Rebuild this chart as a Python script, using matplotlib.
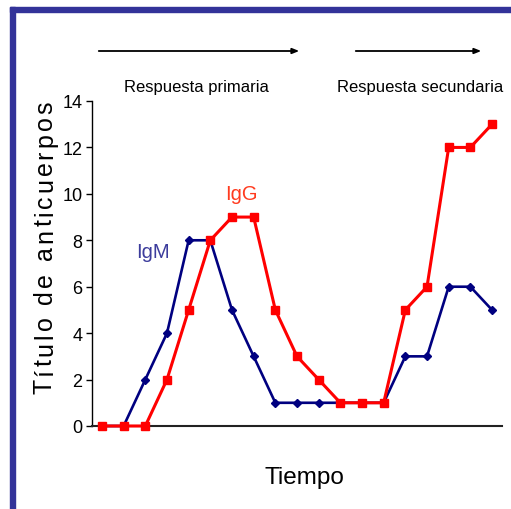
import numpy as np
import matplotlib
matplotlib.use("Agg")
import matplotlib.pyplot as plt
from matplotlib.patches import Rectangle, FancyArrowPatch
from matplotlib.font_manager import FontProperties
from matplotlib.textpath import TextToPath

plt.rcParams["font.family"] = ["Liberation Sans", "DejaVu Sans"]

# antibody titre over time, one sample per step
igm = [0, 0, 2, 4, 8, 8, 5, 3, 1, 1, 1, 1, 1, 1, 3, 3, 6, 6, 5]
igg = [0, 0, 0, 2, 5, 8, 9, 9, 5, 3, 2, 1, 1, 1, 5, 6, 12, 12, 13]
y_ticks = [0, 2, 4, 6, 8, 10, 12, 14]
phase_labels = ["Respuesta primaria", "Respuesta secundaria"]
ylabel = "Título de anticuerpos"
xlabel = "Tiempo"

W, H = 511, 510
fig = plt.figure(figsize=(W / 100, H / 100), dpi=100)

def fx(px):
    return px / W

def fy(py):
    return 1 - py / H

# blue frame on the left and top
frame_col = "#333399"
fig.patches.append(Rectangle((fx(10), 0), fx(5), fy(8), transform=fig.transFigure,
                             color=frame_col, zorder=0))
fig.patches.append(Rectangle((fx(10), fy(13)), 1 - fx(10), fy(8) - fy(13),
                             transform=fig.transFigure, color=frame_col, zorder=0))

ax = fig.add_axes([fx(92), fy(427), fx(502) - fx(92), fy(102) - fy(427)])
x = np.arange(len(igm))
ax.plot(x, igm, color="#000080", lw=1.9, marker="D", ms=3.6, clip_on=False, zorder=3)
ax.plot(x, igg, color="#ff0000", lw=2.2, marker="s", ms=5.6, clip_on=False, zorder=4)

ax.set_xlim(-0.46, len(igm) - 1 + 0.46)
ax.set_ylim(0, 14)
ax.set_yticks(y_ticks)
ax.set_xticks([])
ax.tick_params(axis="y", length=4, width=1, pad=3, labelsize=13, direction="out")
for s in ("top", "right"):
    ax.spines[s].set_visible(False)
ax.spines["left"].set_linewidth(1)
ax.spines["bottom"].set_linewidth(1.5)
ax.spines["bottom"].set_color("#222222")

fig.text(fx(241), fy(200), "IgG", color="#ff3b1f", fontsize=14.5, ha="center", va="baseline")
fig.text(fx(153), fy(258), "IgM", color="#3c3c9c", fontsize=14.5, ha="center", va="baseline")

# phase arrows and captions
for (x0, x1), lab, cx in zip([(96, 302), (353, 484)], phase_labels, [196, 420]):
    fig.patches.append(FancyArrowPatch(
        (fx(x0), fy(52)), (fx(x1), fy(52)), transform=fig.transFigure,
        arrowstyle="-|>,head_length=4,head_width=1.6", mutation_scale=1,
        lw=1.3, color="black"))
    fig.text(fx(cx), fy(92), lab, fontsize=12, ha="center", va="baseline")

fig.text(fx(304), fy(484), xlabel, fontsize=17.5, ha="center", va="baseline")

# letter-spaced vertical axis title
prop = FontProperties(family="Liberation Sans", size=18)
t2p = TextToPath()
def width_px(s):
    w, _, _ = t2p.get_text_width_height_descent(s, prop, ismath=False)
    return w * 100 / 72
total = width_px(ylabel)
gap = (293 - total) / (len(ylabel) - 1)
y0 = 394
for i, ch in enumerate(ylabel):
    pos = width_px(ylabel[:i]) + i * gap if i else 0
    fig.text(fx(52), fy(y0 - pos), ch, fontproperties=prop, rotation=90,
             rotation_mode="anchor", ha="left", va="baseline")

fig.savefig("out.png", dpi=100)
